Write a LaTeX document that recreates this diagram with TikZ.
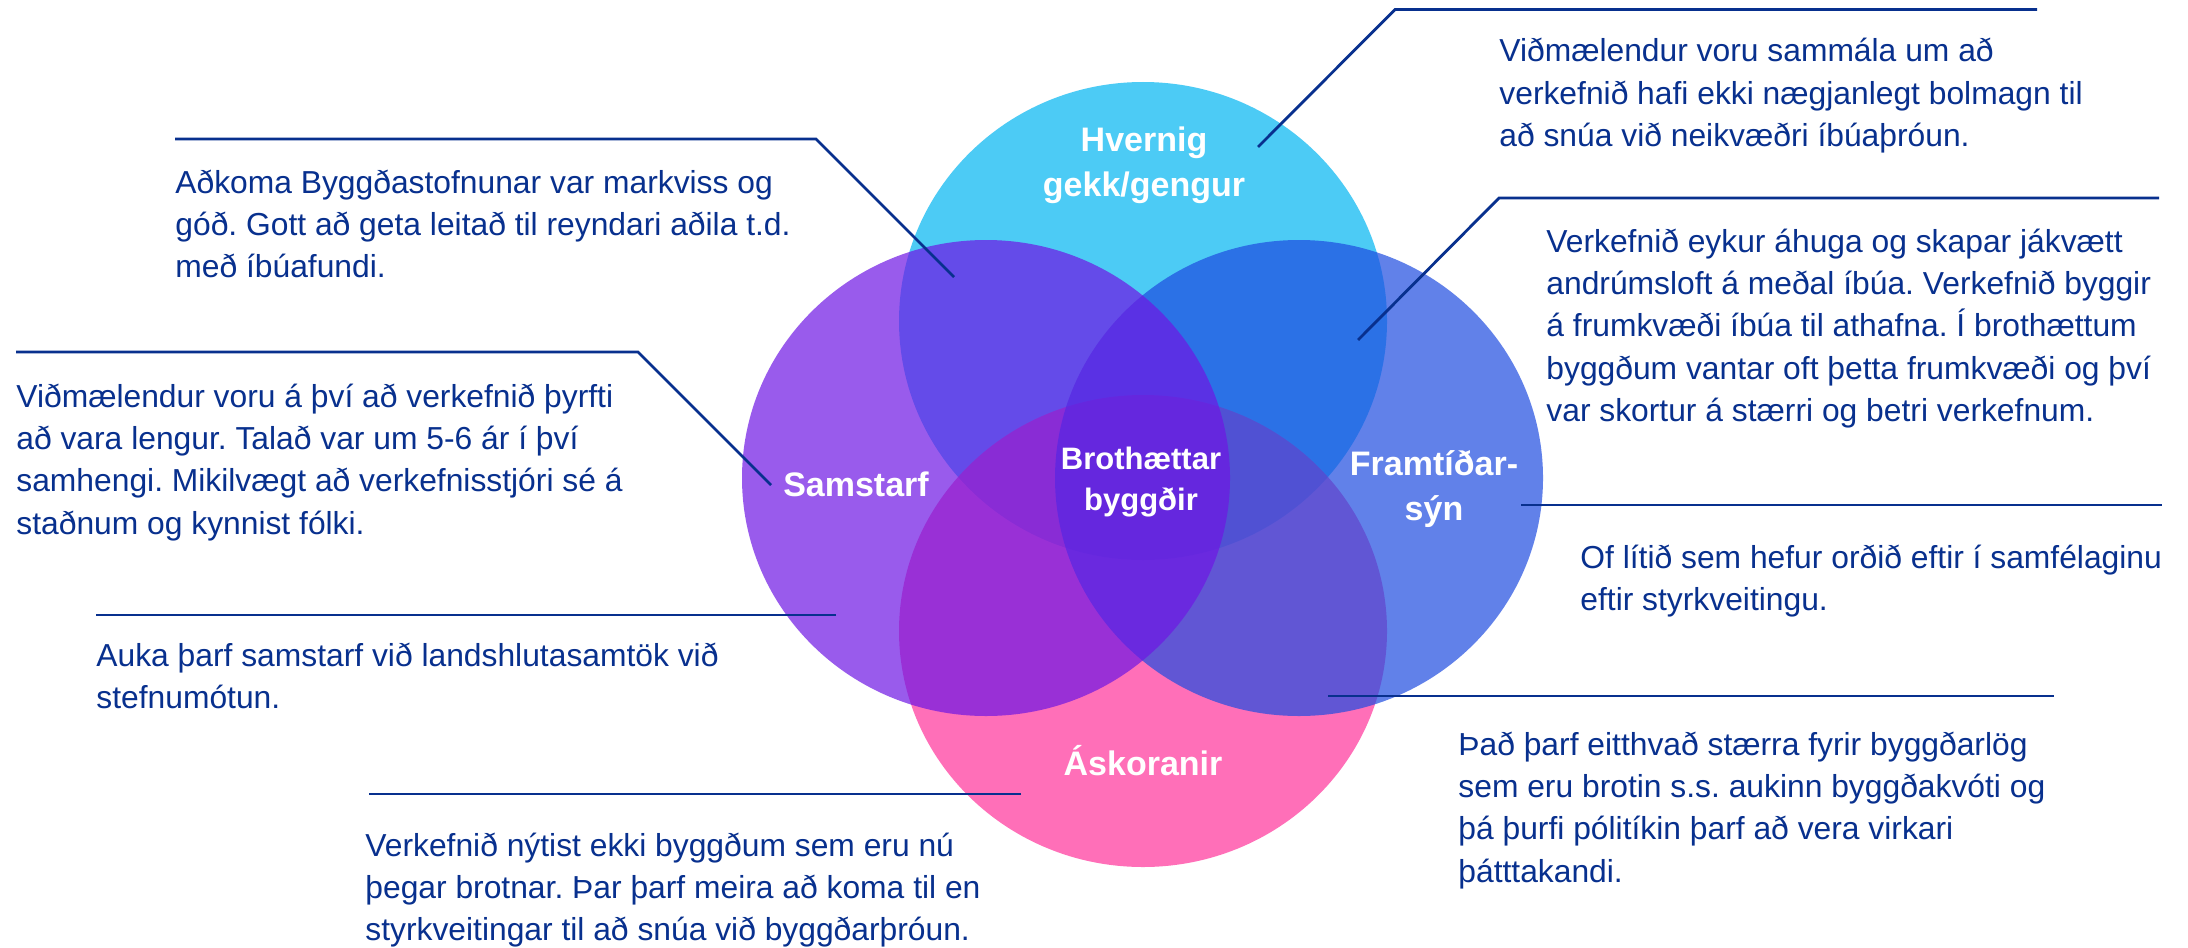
\documentclass[tikz,border=0pt]{standalone}
\usepackage{fontspec}
\setmainfont{Liberation Sans}
\frenchspacing
\definecolor{txtblue}{RGB}{8,48,142}
\definecolor{ccyan}{RGB}{0,181,241}
\definecolor{cpink}{RGB}{255,51,154}
\definecolor{cblue}{RGB}{30,76,225}
\definecolor{cpurple}{RGB}{111,22,228}
\newcommand\bodytext[1]{\parbox[t]{420pt}{\raggedright\frenchspacing\fontsize{15.9}{21.2}\selectfont #1}}
\newcommand\lbltext[1]{\begin{tabular}[t]{@{}c@{}}#1\end{tabular}}
\begin{document}
\begin{tikzpicture}[x=0.5pt,y=-0.5pt,
  body/.style={anchor=base west, inner sep=0pt, text=txtblue},
  lbl/.style={anchor=base, inner sep=0pt, text=white, font=\fontsize{17}{22.5}\selectfont\bfseries},
  conn/.style={draw=txtblue, line width=1.4pt},
  venn/.style={fill opacity=0.7}]
\fill[white] (0,0) rectangle (2188,947);
\useasboundingbox (0,0) rectangle (2188,947);
% circles
\fill[ccyan, venn] (1143,321) ellipse [x radius=244, y radius=239];
\fill[cpink, venn] (1143,631) ellipse [x radius=244, y radius=236];
\fill[cblue, venn] (1299,478) ellipse [x radius=244, y radius=238];
\fill[cpurple, venn] (986,478) ellipse [x radius=244, y radius=238];
% labels
\node[lbl] (lHv) at (1144,151) {\lbltext{Hvernig\\gekk/gengur}};
\node[lbl] (lSam) at (856,496) {Samstarf};
\node[lbl, font=\fontsize{15.5}{20.5}\selectfont\bfseries] (lBro) at (1141,469) {\lbltext{Brothættar\\byggðir}};
\node[lbl] (lFr) at (1434,475) {\lbltext{Framtíðar-\\sýn}};
\node[lbl] (lAsk) at (1143,775) {Áskoranir};
% text blocks
\node[body] (tA) at (1499,62) {\bodytext{Viðmælendur voru sammála um að\\verkefnið hafi ekki nægjanlegt bolmagn til\\að snúa við neikvæðri íbúaþróun.}};
\node[body] (tB) at (175,193) {\bodytext{Aðkoma Byggðastofnunar var markviss og\\góð. Gott að geta leitað til reyndari aðila t.d.\\með íbúafundi.}};
\node[body] (tC) at (1546,252) {\bodytext{Verkefnið eykur áhuga og skapar jákvætt\\andrúmsloft á meðal íbúa. Verkefnið byggir\\á frumkvæði íbúa til athafna. Í brothættum\\byggðum vantar oft þetta frumkvæði og því\\var skortur á stærri og betri verkefnum.}};
\node[body] (tD) at (16,407) {\bodytext{Viðmælendur voru á því að verkefnið þyrfti\\að vara lengur. Talað var um 5-6 ár í því\\samhengi. Mikilvægt að verkefnisstjóri sé á\\staðnum og kynnist fólki.}};
\node[body] (tE) at (1580,568) {\bodytext{Of lítið sem hefur orðið eftir í samfélaginu\\eftir styrkveitingu.}};
\node[body] (tF) at (96,666) {\bodytext{Auka þarf samstarf við landshlutasamtök við\\stefnumótun.}};
\node[body] (tG) at (1458,755) {\bodytext{Það þarf eitthvað stærra fyrir byggðarlög\\sem eru brotin s.s. aukinn byggðakvóti og\\þá þurfi pólitíkin þarf að vera virkari\\þátttakandi.}};
\node[body] (tH) at (365,856) {\bodytext{Verkefnið nýtist ekki byggðum sem eru nú\\þegar brotnar. Þar þarf meira að koma til en\\styrkveitingar til að snúa við byggðarþróun.}};
% connector points
\coordinate (a1) at (1258,147); \coordinate (a2) at (1395,9.5); \coordinate (a3) at (2037,9.5);
\coordinate (b1) at (954,277); \coordinate (b2) at (816,139); \coordinate (b3) at (175,139);
\coordinate (c1) at (1358,340); \coordinate (c2) at (1499,198); \coordinate (c3) at (2159,198);
\coordinate (d1) at (771,485); \coordinate (d2) at (638,352); \coordinate (d3) at (16,352);
\coordinate (e1) at (1521,505); \coordinate (e2) at (2162,505);
\coordinate (f1) at (836,615); \coordinate (f2) at (96,615);
\coordinate (g1) at (1328,696); \coordinate (g2) at (2054,696);
\coordinate (h1) at (1021,794); \coordinate (h2) at (369,794);
\draw[conn] (a1) -- (a2) -- (a3);
\draw[conn] (b1) -- (b2) -- (b3);
\draw[conn] (c1) -- (c2) -- (c3);
\draw[conn] (d1) -- (d2) -- (d3);
\draw[conn] (e1) -- (e2);
\draw[conn] (f1) -- (f2);
\draw[conn] (g1) -- (g2);
\draw[conn] (h1) -- (h2);
\end{tikzpicture}
\end{document}
